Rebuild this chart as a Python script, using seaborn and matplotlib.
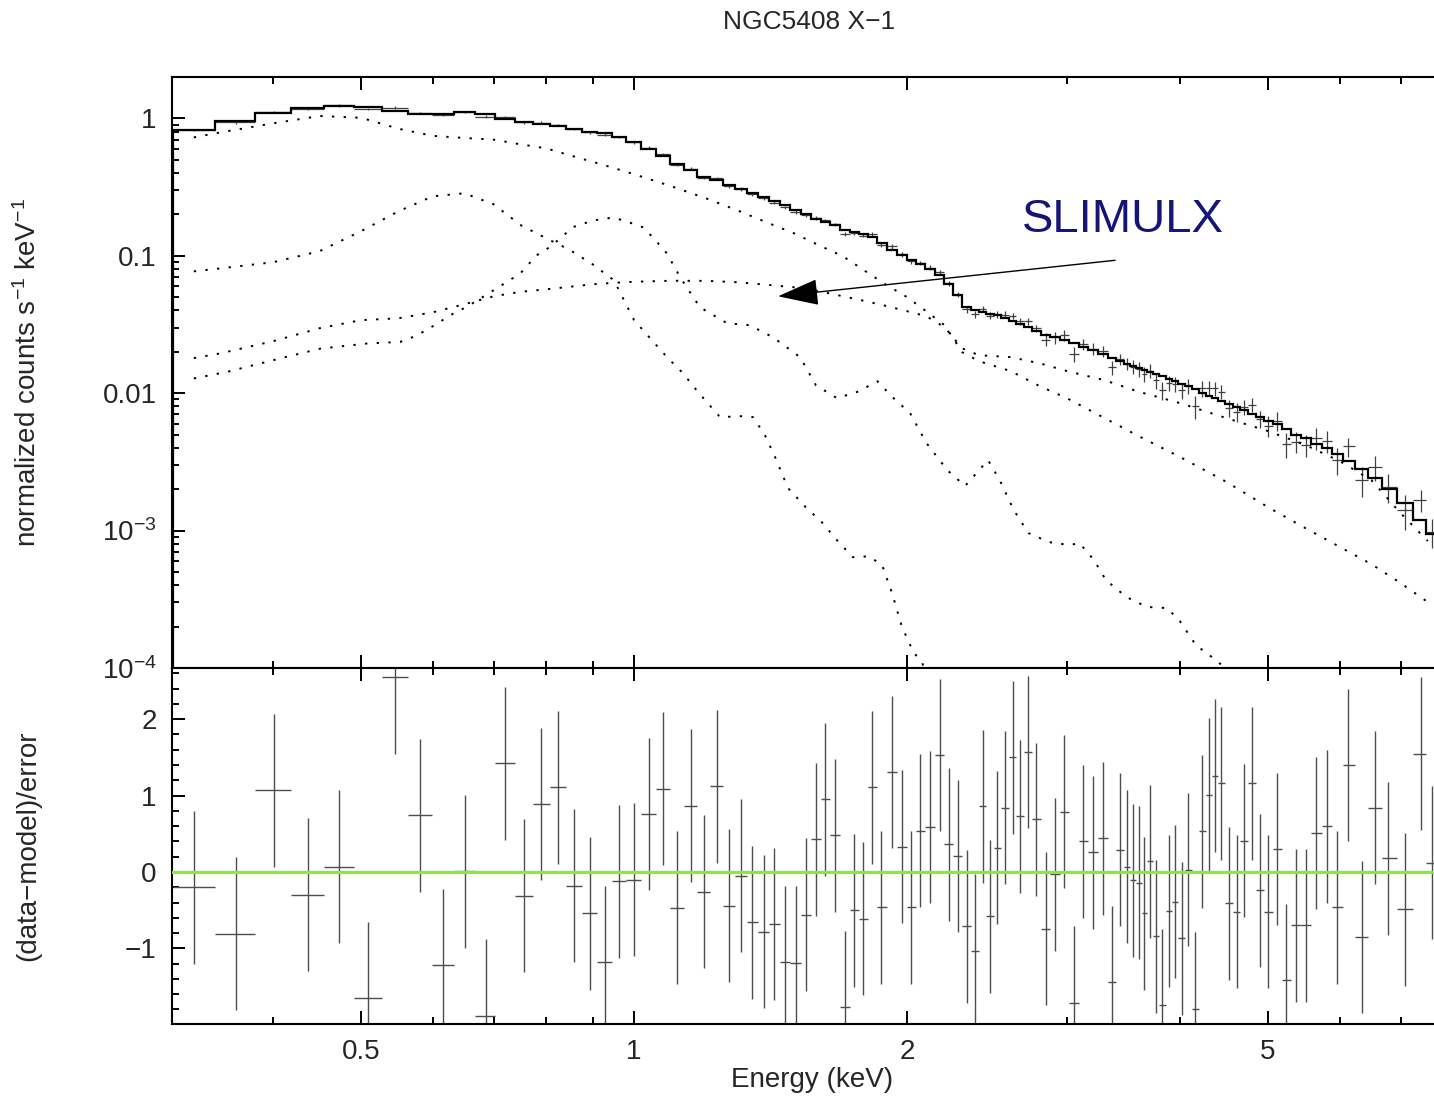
import numpy as np
import matplotlib
matplotlib.use('Agg')
import matplotlib.pyplot as plt
import matplotlib.ticker as mticker
import seaborn as sns

# grouped spectrum: bin centres (keV)
energy = [0.327, 0.364, 0.401, 0.437, 0.473, 0.509, 0.545, 0.581, 0.616, 0.651,
          0.686, 0.721, 0.756, 0.790, 0.825, 0.859, 0.894, 0.928, 0.963, 0.999,
          1.038, 1.077, 1.116, 1.155, 1.194, 1.234, 1.273, 1.311, 1.350, 1.390,
          1.428, 1.467, 1.508, 1.546, 1.586, 1.625, 1.666, 1.707, 1.749, 1.790,
          1.830, 1.874, 1.925, 1.975, 2.020, 2.069, 2.120, 2.173, 2.223, 2.275,
          2.327, 2.375, 2.424, 2.467, 2.515, 2.567, 2.615, 2.664, 2.719, 2.777,
          2.844, 2.912, 2.981, 3.056, 3.129, 3.209, 3.291, 3.363, 3.432, 3.499,
          3.552, 3.602, 3.653, 3.707, 3.761, 3.824, 3.890, 3.950, 4.017, 4.085,
          4.159, 4.233, 4.302, 4.368, 4.439, 4.526, 4.619, 4.706, 4.802, 4.897,
          5.005, 5.113, 5.236, 5.370, 5.508, 5.654, 5.804, 5.962, 6.131, 6.344,
          6.561, 6.786, 7.080, 7.368, 7.576]

# total folded model (counts s^-1 keV^-1)
model_total = [0.828, 0.95, 1.09, 1.18, 1.24, 1.21, 1.14, 1.08, 1.08, 1.11,
               1.07, 0.995, 0.94, 0.915, 0.875, 0.84, 0.80, 0.78, 0.73, 0.67,
               0.60, 0.53, 0.468, 0.42, 0.374, 0.354, 0.326, 0.308, 0.288, 0.268,
               0.249, 0.233, 0.217, 0.20, 0.186, 0.176, 0.167, 0.153, 0.149, 0.143,
               0.137, 0.123, 0.111, 0.101, 0.093, 0.087, 0.080, 0.072, 0.062, 0.0516,
               0.0425, 0.0400, 0.0390, 0.0380, 0.0368, 0.0355, 0.0336, 0.0320, 0.0304, 0.0285,
               0.0265, 0.0255, 0.0245, 0.0232, 0.0218, 0.0206, 0.0193, 0.0180, 0.0172, 0.0163,
               0.0158, 0.0153, 0.0148, 0.0143, 0.0138, 0.0133, 0.0127, 0.0122, 0.0117, 0.0112,
               0.0107, 0.0101, 0.0096, 0.0092, 0.0088, 0.0083, 0.0079, 0.0075, 0.0071, 0.0067,
               0.0063, 0.0060, 0.0055, 0.0050, 0.0047, 0.0043, 0.0040, 0.0036, 0.0032, 0.0028,
               0.0024, 0.0020, 0.0016, 0.0012, 0.00095]

# (data-model)/error
residual = [-0.20, -0.81, 1.07, -0.30, 0.07, -1.65, 2.55, 0.74, -1.22, 0.01,
            -1.88, 1.42, -0.31, 0.89, 1.11, -0.18, -0.54, -1.18, -0.12, -0.10,
            0.76, 1.09, -0.47, 0.87, -0.26, 1.12, -0.44, -0.05, -0.66, -0.78,
            -0.68, -1.18, -1.19, -0.56, 0.43, 0.95, 0.48, -1.77, -0.50, -0.61,
            1.11, -0.46, 1.31, 0.33, -0.46, 0.54, 0.59, 1.53, 0.36, 0.21,
            -0.71, -1.03, 0.86, -0.58, 0.32, 0.84, 1.50, 0.73, 1.57, 0.69,
            -0.74, -0.03, 0.79, -1.71, 0.40, 0.26, 0.44, -1.44, 0.29, 0.07,
            -0.11, -0.14, -0.54, 0.14, -0.84, -1.74, -0.51, -0.39, -0.87, 0.03,
            -1.79, 0.53, 1.01, 1.26, 1.16, -0.41, -0.52, 0.41, 1.16, -0.24,
            -0.52, 0.30, -1.42, -0.70, -0.70, 0.51, 0.60, -0.46, 1.40, -0.85,
            0.84, 0.18, -0.49, 1.55, 0.12]

# fractional 1-sigma error of each bin
rel_err = ([0.02] * 20 + [0.03] * 20 + [0.04] * 10 + [0.06] * 10 + [0.10] * 10
           + [0.12] * 10 + [0.14] * 10 + [0.16] * 5 + [0.20] * 5 + [0.25] * 5)

# model components
comp_energy = [0.327, 0.35, 0.40, 0.45, 0.50, 0.55, 0.60, 0.65, 0.70, 0.75,
               0.80, 0.85, 0.90, 0.95, 1.0, 1.1, 1.2, 1.3, 1.4, 1.5,
               1.6, 1.7, 1.8, 1.9, 2.0, 2.1, 2.2, 2.3, 2.4, 2.6,
               2.8, 3.0, 3.3, 3.6, 4.0, 4.5, 5.0, 5.5, 6.0, 6.5,
               7.0, 7.5]
soft_comp = [0.727, 0.791, 0.92, 1.04, 1.01, 0.84, 0.746, 0.72, 0.70, 0.647,
             0.605, 0.538, 0.483, 0.435, 0.392, 0.32, 0.262, 0.214, 0.175, 0.146,
             0.119, 0.099, 0.077, 0.061, 0.050, 0.0394, 0.0312, 0.0199, 0.0171, 0.0145,
             0.01125, 0.0092, 0.0066, 0.00487, 0.00343, 0.00226, 0.00148, 0.00104, 0.00076, 0.00057,
             0.000415, 0.000302]
slimulx_comp = [0.018, 0.0195, 0.0239, 0.0297, 0.034, 0.0351, 0.0388, 0.0444, 0.0507, 0.0547,
                0.057, 0.0595, 0.062, 0.0636, 0.0647, 0.0658, 0.0657, 0.0642, 0.0615, 0.059,
                0.0552, 0.0507, 0.0467, 0.043, 0.0395, 0.0363, 0.0302, 0.0212, 0.0189, 0.0183,
                0.0165, 0.0145, 0.01244, 0.01025, 0.00846, 0.00658, 0.0053, 0.00419, 0.0032, 0.00233,
                0.00134, 0.00084]

line1_energy = [0.327, 0.35, 0.40, 0.45, 0.50, 0.55, 0.60, 0.65, 0.70, 0.75,
                0.80, 0.85, 0.90, 0.95, 1.0, 1.087, 1.132, 1.176, 1.244, 1.312,
                1.353, 1.394, 1.432, 1.478, 1.546, 1.611, 1.674, 1.743, 1.815, 1.877,
                1.925, 1.974, 2.034, 2.077, 2.12]
line1_flux = [0.077, 0.081, 0.0897, 0.108, 0.151, 0.211, 0.271, 0.285, 0.237, 0.167,
              0.134, 0.11, 0.0867, 0.0664, 0.034, 0.0183, 0.014, 0.0102, 0.00669, 0.0068,
              0.00669, 0.00495, 0.00337, 0.00204, 0.00148, 0.00115, 0.00085, 0.00064, 0.00065, 0.000561,
              0.000351, 0.000199, 0.000129, 0.000111, 0.00007]

line2_energy = [0.327, 0.356, 0.414, 0.451, 0.508, 0.552, 0.571, 0.590, 0.632, 0.654,
                0.700, 0.749, 0.781, 0.808, 0.857, 0.902, 0.949, 0.998, 1.023, 1.049,
                1.087, 1.124, 1.182, 1.266, 1.342, 1.423, 1.524, 1.587, 1.674, 1.761,
                1.856, 1.925, 2.015, 2.101, 2.215, 2.317, 2.456, 2.530, 2.622, 2.721,
                2.866, 3.018, 3.099, 3.214, 3.313, 3.491, 3.677, 3.867, 3.991, 4.162,
                4.336, 4.470, 4.6]
line2_flux = [0.0128, 0.0143, 0.0184, 0.0211, 0.023, 0.0236, 0.0257, 0.0287, 0.038, 0.0425,
              0.0561, 0.0743, 0.101, 0.116, 0.162, 0.181, 0.19, 0.171, 0.161, 0.136,
              0.104, 0.0698, 0.0422, 0.0323, 0.0312, 0.0255, 0.0183, 0.0114, 0.0092, 0.0102,
              0.0122, 0.0094, 0.00716, 0.00433, 0.00275, 0.00211, 0.00326, 0.00233, 0.00141, 0.00096,
              0.000825, 0.000785, 0.00081, 0.00061, 0.000436, 0.000328, 0.000278, 0.000273, 0.000223, 0.000147,
              0.00012, 0.000102, 0.00008]

sns.set_theme(style='ticks')
plt.rcParams['font.family'] = ['Liberation Sans', 'DejaVu Sans']
plt.rcParams['mathtext.fontset'] = 'custom'
plt.rcParams['mathtext.rm'] = 'Liberation Sans'
plt.rcParams['mathtext.it'] = 'Liberation Sans:italic'
plt.rcParams['mathtext.bf'] = 'Liberation Sans:bold'

e = np.array(energy)
model = np.array(model_total)
res = np.array(residual)
rerr = np.array(rel_err)

# bin edges halfway (in log) between neighbouring centres
mid = np.sqrt(e[:-1] * e[1:])
edges = np.concatenate([[e[0] ** 2 / mid[0]], mid, [e[-1] ** 2 / mid[-1]]])
xerr = [e - edges[:-1], edges[1:] - e]
sigma = rerr * model
data = model + res * sigma

W, H = 1434, 1097
fig = plt.figure(figsize=(W / 100, H / 100), dpi=100)
ax1 = fig.add_axes([172 / W, 1 - 668 / H, 1262 / W, 591 / H])
ax2 = fig.add_axes([172 / W, 1 - 1024 / H, 1262 / W, 356 / H], sharex=ax1)

dot = (0, (1.2, 4.8))

# ---- top panel: spectrum
ax1.set_xscale('log')
ax1.set_yscale('log')
ax1.errorbar(e, data, xerr=xerr, yerr=sigma, fmt='none', ecolor='0.25',
             elinewidth=0.9, zorder=2)
ax1.stairs(model, edges, color='black', lw=1.6, zorder=3)
for xs, ys in [(comp_energy, soft_comp), (comp_energy, slimulx_comp),
               (line1_energy, line1_flux), (line2_energy, line2_flux)]:
    sns.lineplot(x=xs, y=ys, ax=ax1, color='black', lw=1.4, linestyle=dot,
                 estimator=None, sort=False, zorder=2)

ax1.set_ylim(1e-4, 2.0)
ax1.set_xlim(0.3094, 7.62)

ax1.annotate('', xy=(1.441, 0.0507), xytext=(3.391, 0.0927),
             arrowprops=dict(arrowstyle='-|>,head_length=1.3,head_width=0.42',
                             mutation_scale=20, color='black', lw=1.0,
                             shrinkA=0, shrinkB=0))
ax1.text(2.678, 0.181, 'SLIMULX', color='#14147a', fontsize=34,
         ha='left', va='center')

ax1.yaxis.set_major_locator(mticker.FixedLocator([1e-4, 1e-3, 0.01, 0.1, 1]))
ax1.yaxis.set_major_formatter(mticker.FixedFormatter(
    [r'$10^{-4}$', r'$10^{-3}$', '0.01', '0.1', '1']))
ax1.yaxis.set_minor_locator(mticker.LogLocator(base=10, subs=np.arange(2, 10), numticks=20))
ax1.yaxis.set_minor_formatter(mticker.NullFormatter())
ax1.set_ylabel(r'normalized counts s$^{-1}$ keV$^{-1}$', fontsize=20, va='center')
ax1.yaxis.set_label_coords(-0.114, 0.5)
plt.setp(ax1.get_xticklabels(), visible=False)

# ---- bottom panel: residuals
ax2.errorbar(e, res, xerr=xerr, yerr=1.0, fmt='none', ecolor='0.3',
             elinewidth=1.0, zorder=2)
ax2.axhline(0, color='#8ee34d', lw=2.2, zorder=3)
ax2.set_ylim(-1.99, 2.67)
ax2.yaxis.set_major_locator(mticker.FixedLocator([-1, 0, 1, 2]))
ax2.yaxis.set_major_formatter(mticker.FixedFormatter(['\u22121', '0', '1', '2']))
ax2.yaxis.set_minor_locator(mticker.MultipleLocator(0.2))
ax2.set_ylabel('(data\u2212model)/error', fontsize=20, va='center')
ax2.yaxis.set_label_coords(-0.114, 0.5)

ax2.xaxis.set_major_locator(mticker.FixedLocator([0.5, 1, 2, 5]))
ax2.xaxis.set_major_formatter(mticker.FixedFormatter(['0.5', '1', '2', '5']))
ax2.xaxis.set_minor_locator(mticker.FixedLocator([0.4, 0.6, 0.7, 0.8, 0.9, 3, 4, 6, 7]))
ax2.xaxis.set_minor_formatter(mticker.NullFormatter())
ax2.set_xlabel('Energy (keV)', fontsize=20, va='center')
ax2.xaxis.set_label_coords(0.507, -0.157)

for ax in (ax1, ax2):
    for side in ('left', 'top', 'bottom'):
        ax.spines[side].set_linewidth(1.5)
        ax.spines[side].set_color('black')
    ax.spines['right'].set_visible(False)
    ax.tick_params(which='both', direction='in', top=True, right=False,
                   bottom=True, left=True, width=1.4, color='black',
                   labelsize=20, pad=11)
    ax.tick_params(which='major', length=9.5)
    ax.tick_params(which='minor', length=5)
    ax.grid(False)

fig.text(809 / W, 1 - 22 / H, 'NGC5408 X\u22121', ha='center', va='center', fontsize=19)

fig.savefig('out.png', dpi=100)
